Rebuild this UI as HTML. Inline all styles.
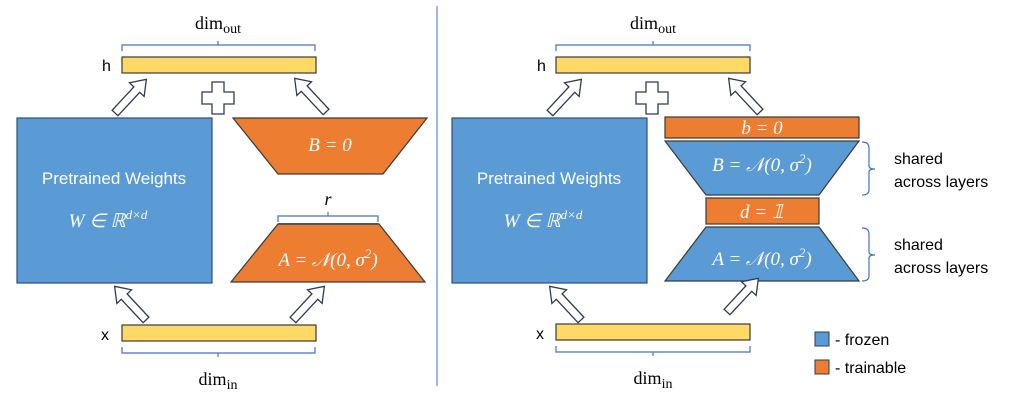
<!DOCTYPE html>
<html><head><meta charset="utf-8"><style>
body{margin:0;background:#fff;}
svg{display:block;}
text{font-family:"Liberation Sans",sans-serif;}
.m{font-family:"Liberation Serif",serif;font-style:italic;fill:#fff;font-size:19px;}
.s{font-family:"Liberation Serif",serif;font-size:18px;fill:#000;}
</style></head><body>
<svg width="1010" height="403" viewBox="0 0 1010 403" xmlns="http://www.w3.org/2000/svg">
<defs>
<path id="arr" d="M0,-4 L32,-4 L32,-10 L46,0 L32,10 L32,4 L0,4 Z" fill="#fff" stroke="#2f3b52" stroke-width="1.3"/>
<path id="plus" d="M-6,-16 L6,-16 L6,-6 L16,-6 L16,6 L6,6 L6,16 L-6,16 L-6,6 L-16,6 L-16,-6 L-6,-6 Z" fill="#fff" stroke="#2f3b52" stroke-width="1.3"/>
</defs>
<line x1="437" y1="6" x2="437" y2="386" stroke="#4472c4" stroke-width="1"/>

<!-- LEFT -->
<text x="218" y="29" class="s" text-anchor="middle">dim<tspan font-size="14" font-style="normal" dy="4">out</tspan></text>
<path d="M122,51 v-6 h96 v-4 M218,45 h97 v6" fill="none" stroke="#4472c4" stroke-width="1.2"/>
<rect x="122" y="57" width="194" height="16" fill="#ffd966" stroke="#3a3a3a" stroke-width="1.2"/>
<text x="102" y="71" font-size="16">h</text>
<use href="#arr" transform="translate(115,113) rotate(-47)"/>
<use href="#arr" transform="translate(326,112) rotate(-133)"/>
<use href="#plus" transform="translate(218,98)"/>
<rect x="17" y="118" width="195" height="165" fill="#5b9bd5" stroke="#2f4d7a" stroke-width="1.2"/>
<text x="114" y="184" font-size="17" fill="#fff" text-anchor="middle">Pretrained Weights</text>
<text x="108" y="227" class="m" text-anchor="middle">W ∈ ℝ<tspan font-size="13" dy="-8">d×d</tspan></text>
<polygon points="233,118 427,118 383,174 278,174" fill="#ed7d31" stroke="#3a3a3a" stroke-width="1.2"/>
<text x="330" y="151" class="m" text-anchor="middle">B = 0</text>
<text x="328" y="205" class="s" font-style="italic" text-anchor="middle">r</text>
<path d="M278,222 v-6 h50 v-4 M328,216 h50 v6" fill="none" stroke="#4472c4" stroke-width="1.2"/>
<polygon points="278,224 379,224 425,282 231,282" fill="#ed7d31" stroke="#3a3a3a" stroke-width="1.2"/>
<polygon points="278,224 379,224" stroke="#555" stroke-width="2"/>
<text x="328" y="266" class="m" text-anchor="middle">A = 𝒩(0, σ<tspan font-size="13" dy="-8">2</tspan><tspan dy="8">)</tspan></text>
<use href="#arr" transform="translate(146,320) rotate(-133)"/>
<use href="#arr" transform="translate(293,320) rotate(-47)"/>
<rect x="122" y="325" width="194" height="16" fill="#ffd966" stroke="#3a3a3a" stroke-width="1.2"/>
<text x="101" y="340" font-size="16">x</text>
<path d="M122,347 v6 h96 v4 M218,353 h97 v-6" fill="none" stroke="#4472c4" stroke-width="1.2"/>
<text x="218" y="385" class="s" text-anchor="middle">dim<tspan font-size="14" dy="4">in</tspan></text>

<!-- RIGHT -->
<text x="653" y="29" class="s" text-anchor="middle">dim<tspan font-size="14" dy="4">out</tspan></text>
<path d="M556,51 v-6 h97 v-4 M653,45 h97 v6" fill="none" stroke="#4472c4" stroke-width="1.2"/>
<rect x="556" y="57" width="194" height="16" fill="#ffd966" stroke="#3a3a3a" stroke-width="1.2"/>
<text x="537" y="71" font-size="16">h</text>
<use href="#arr" transform="translate(550,113) rotate(-47)"/>
<use href="#arr" transform="translate(760,112) rotate(-133)"/>
<use href="#plus" transform="translate(652,98)"/>
<rect x="452" y="118" width="195" height="165" fill="#5b9bd5" stroke="#2f4d7a" stroke-width="1.2"/>
<text x="549" y="184" font-size="17" fill="#fff" text-anchor="middle">Pretrained Weights</text>
<text x="543" y="227" class="m" text-anchor="middle">W ∈ ℝ<tspan font-size="13" dy="-8">d×d</tspan></text>
<rect x="665" y="117" width="194" height="21" fill="#ed7d31" stroke="#3a3a3a" stroke-width="1.2"/>
<text x="762" y="134" class="m" text-anchor="middle">b = 0</text>
<polygon points="665,141 859,141 819,195 706,195" fill="#5b9bd5" stroke="#3a3a3a" stroke-width="1.2"/>
<text x="762" y="171" class="m" text-anchor="middle">B = 𝒩(0, σ<tspan font-size="13" dy="-8">2</tspan><tspan dy="8">)</tspan></text>
<rect x="706" y="198" width="113" height="26" fill="#ed7d31" stroke="#3a3a3a" stroke-width="1.2"/>
<text x="762" y="218" class="m" text-anchor="middle">d = 𝟙</text>
<polygon points="706,227 819,227 859,281 665,281" fill="#5b9bd5" stroke="#3a3a3a" stroke-width="1.2"/>
<text x="762" y="265" class="m" text-anchor="middle">A = 𝒩(0, σ<tspan font-size="13" dy="-8">2</tspan><tspan dy="8">)</tspan></text>
<path d="M862,142 q7,0 7,6 v18 q0,3 6,3 q-6,0 -6,3 v18 q0,5 -7,5" fill="none" stroke="#4472c4" stroke-width="1.2"/>
<path d="M862,228 q7,0 7,6 v18 q0,3 6,3 q-6,0 -6,3 v18 q0,5 -7,5" fill="none" stroke="#4472c4" stroke-width="1.2"/>
<text x="894" y="164" font-size="16">shared</text>
<text x="894" y="187" font-size="16">across layers</text>
<text x="894" y="250" font-size="16">shared</text>
<text x="894" y="273" font-size="16">across layers</text>
<use href="#arr" transform="translate(727,312) rotate(-47)"/>
<use href="#arr" transform="translate(581,320) rotate(-133)"/>
<rect x="556" y="324" width="194" height="16" fill="#ffd966" stroke="#3a3a3a" stroke-width="1.2"/>
<text x="536" y="339" font-size="16">x</text>
<path d="M556,346 v6 h97 v4 M653,352 h97 v-6" fill="none" stroke="#4472c4" stroke-width="1.2"/>
<text x="653" y="384" class="s" text-anchor="middle">dim<tspan font-size="14" dy="4">in</tspan></text>
<rect x="815" y="332" width="14" height="14" fill="#5b9bd5" stroke="#2f3b52" stroke-width="1"/>
<text x="835" y="345" font-size="16">- frozen</text>
<rect x="815" y="360" width="14" height="14" fill="#ed7d31" stroke="#2f3b52" stroke-width="1"/>
<text x="835" y="373" font-size="16">- trainable</text>
</svg>
</body></html>
